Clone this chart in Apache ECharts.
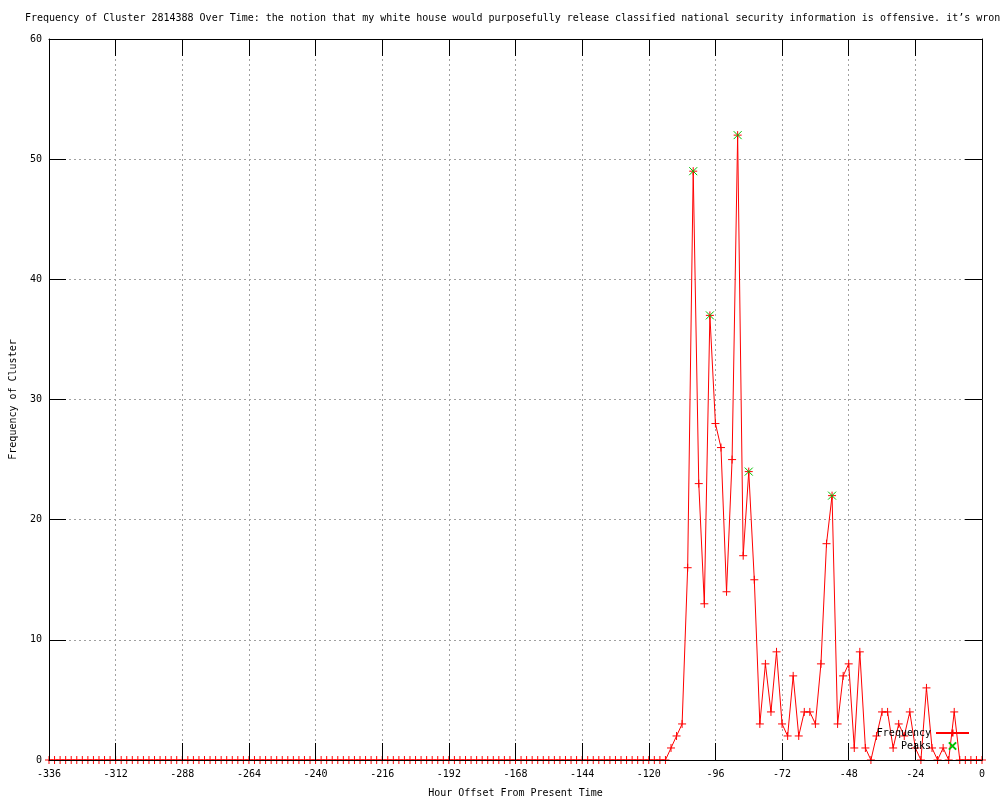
<!DOCTYPE html>
<html>
<head>
<meta charset="utf-8">
<script src="https://cdn.jsdelivr.net/npm/echarts@6/dist/echarts.min.js"></script>
<style>html,body{margin:0;padding:0;background:#fff}#c{width:1000px;height:800px}</style>
</head>
<body>
<div id="c"></div>
<script>
const titleText = "Frequency of Cluster 2814388 Over Time: the notion that my white house would purposefully release classified national security information is offensive. it\u2019s wrong";
const hours = [
 -336,-334,-332,-330,-328,-326,-324,-322,-320,-318,-316,-314,-312,-310,-308,-306,-304,-302,-300,-298,
 -296,-294,-292,-290,-288,-286,-284,-282,-280,-278,-276,-274,-272,-270,-268,-266,-264,-262,-260,-258,
 -256,-254,-252,-250,-248,-246,-244,-242,-240,-238,-236,-234,-232,-230,-228,-226,-224,-222,-220,-218,
 -216,-214,-212,-210,-208,-206,-204,-202,-200,-198,-196,-194,-192,-190,-188,-186,-184,-182,-180,-178,
 -176,-174,-172,-170,-168,-166,-164,-162,-160,-158,-156,-154,-152,-150,-148,-146,-144,-142,-140,-138,
 -136,-134,-132,-130,-128,-126,-124,-122,-120,-118,-116,-114,-112,-110,-108,-106,-104,-102,-100,-98,
 -96,-94,-92,-90,-88,-86,-84,-82,-80,-78,-76,-74,-72,-70,-68,-66,-64,-62,-60,-58,
 -56,-54,-52,-50,-48,-46,-44,-42,-40,-38,-36,-34,-32,-30,-28,-26,-24,-22,-20,-18,
 -16,-14,-12,-10,-8,-6,-4,-2,0
];
const frequency = [
 0,0,0,0,0,0,0,0,0,0,0,0,0,0,0,0,0,0,0,0,
 0,0,0,0,0,0,0,0,0,0,0,0,0,0,0,0,0,0,0,0,
 0,0,0,0,0,0,0,0,0,0,0,0,0,0,0,0,0,0,0,0,
 0,0,0,0,0,0,0,0,0,0,0,0,0,0,0,0,0,0,0,0,
 0,0,0,0,0,0,0,0,0,0,0,0,0,0,0,0,0,0,0,0,
 0,0,0,0,0,0,0,0,0,0,0,0,1,2,3,16,49,23,13,37,
 28,26,14,25,52,17,24,15,3,8,4,9,3,2,7,2,4,4,3,8,
 18,22,3,7,8,1,9,1,0,2,4,4,1,3,2,4,1,0,6,1,
 0,1,0,4,0,0,0,0,0
];
const peakHours = [-104, -98, -88, -84, -54];
const peakValues = [49, 37, 52, 24, 22];
const xTickStep = 24;
const yTickStep = 10;

const font = 'DejaVu Sans Mono';
const plusPath = 'path://M0,4L8,4M4,0L4,8';
const crossPath = 'path://M0,0L8,8M0,8L8,0';

const freqData = hours.map((h, i) => [h, frequency[i]]);
const peakData = peakHours.map((h, i) => [h, peakValues[i]]);

const chart = echarts.init(document.getElementById('c'), null, {renderer: 'canvas'});
const gridLine = {show: true, lineStyle: {color: '#a0a0a0', type: [2, 3], width: 1}};
const tick = {show: true, inside: true, length: 17, lineStyle: {color: '#000', width: 1}};
const border = {show: true, onZero: false, lineStyle: {color: '#000', width: 1}};
const txt = {fontFamily: font, fontSize: 10, color: '#000'};
chart.setOption({
  animation: false,
  backgroundColor: '#fff',
  textStyle: txt,
  title: {
    text: titleText, left: 25, top: 13, padding: 0,
    textStyle: {fontFamily: font, fontSize: 10, fontWeight: 'normal', color: '#000'}
  },
  grid: {left: 49, right: 18, top: 39, bottom: 40, outerBoundsMode: 'none', containLabel: false},
  legend: [
    {data: ['Frequency'], right: 30, top: 728, orient: 'vertical', align: 'right', itemWidth: 33, itemHeight: 9, padding: 0, textStyle: txt, z: 8},
    {data: ['Peaks'], right: 30, top: 741, orient: 'vertical', align: 'right', itemWidth: 33, itemHeight: 9, padding: 0, textStyle: txt, z: 8}
  ],
  xAxis: [
    {type: 'value', position: 'bottom', min: -336, max: 0, interval: xTickStep, z: 0,
     axisLine: {show: false}, axisTick: {show: false}, axisLabel: {show: false}, splitLine: gridLine},
    {type: 'value', position: 'top', min: -336, max: 0, interval: xTickStep, z: 10,
     axisLine: border, axisTick: tick, axisLabel: {show: false}, splitLine: {show: false}},
    {type: 'value', position: 'bottom', min: -336, max: 0, interval: xTickStep, z: 10,
     name: 'Hour Offset From Present Time', nameLocation: 'middle', nameGap: 28, nameTextStyle: txt,
     axisLine: border, axisTick: tick,
     axisLabel: {margin: 9, color: '#000', fontFamily: font, fontSize: 10, showMinLabel: true, showMaxLabel: true},
     splitLine: {show: false}}
  ],
  yAxis: [
    {type: 'value', position: 'left', min: 0, max: 60, interval: yTickStep, z: 0,
     axisLine: {show: false}, axisTick: {show: false}, axisLabel: {show: false}, splitLine: gridLine},
    {type: 'value', position: 'right', min: 0, max: 60, interval: yTickStep, z: 10,
     axisLine: border, axisTick: tick, axisLabel: {show: false}, splitLine: {show: false}},
    {type: 'value', position: 'left', min: 0, max: 60, interval: yTickStep, z: 10,
     name: 'Frequency of Cluster', nameLocation: 'middle', nameGap: 31, nameTextStyle: txt,
     axisLine: border, axisTick: tick,
     axisLabel: {margin: 7, color: '#000', fontFamily: font, fontSize: 10},
     splitLine: {show: false}}
  ],
  series: [
    {name: 'Frequency', type: 'line', data: freqData, xAxisIndex: 0, yAxisIndex: 0,
     symbol: plusPath, symbolSize: 8, showSymbol: true, showAllSymbol: true,
     lineStyle: {color: '#ff0000', width: 1},
     itemStyle: {color: '#ff0000', borderColor: '#ff0000', borderWidth: 1},
     emphasis: {disabled: true}, z: 2},
    {name: 'Peaks', type: 'line', data: peakData, xAxisIndex: 0, yAxisIndex: 0,
     symbol: crossPath, symbolSize: 8, showSymbol: true,
     lineStyle: {color: '#00c000', width: 1, opacity: 0},
     itemStyle: {color: '#00c000', borderColor: '#00c000', borderWidth: 1},
     emphasis: {disabled: true}, z: 3}
  ]
});
</script>
</body>
</html>
